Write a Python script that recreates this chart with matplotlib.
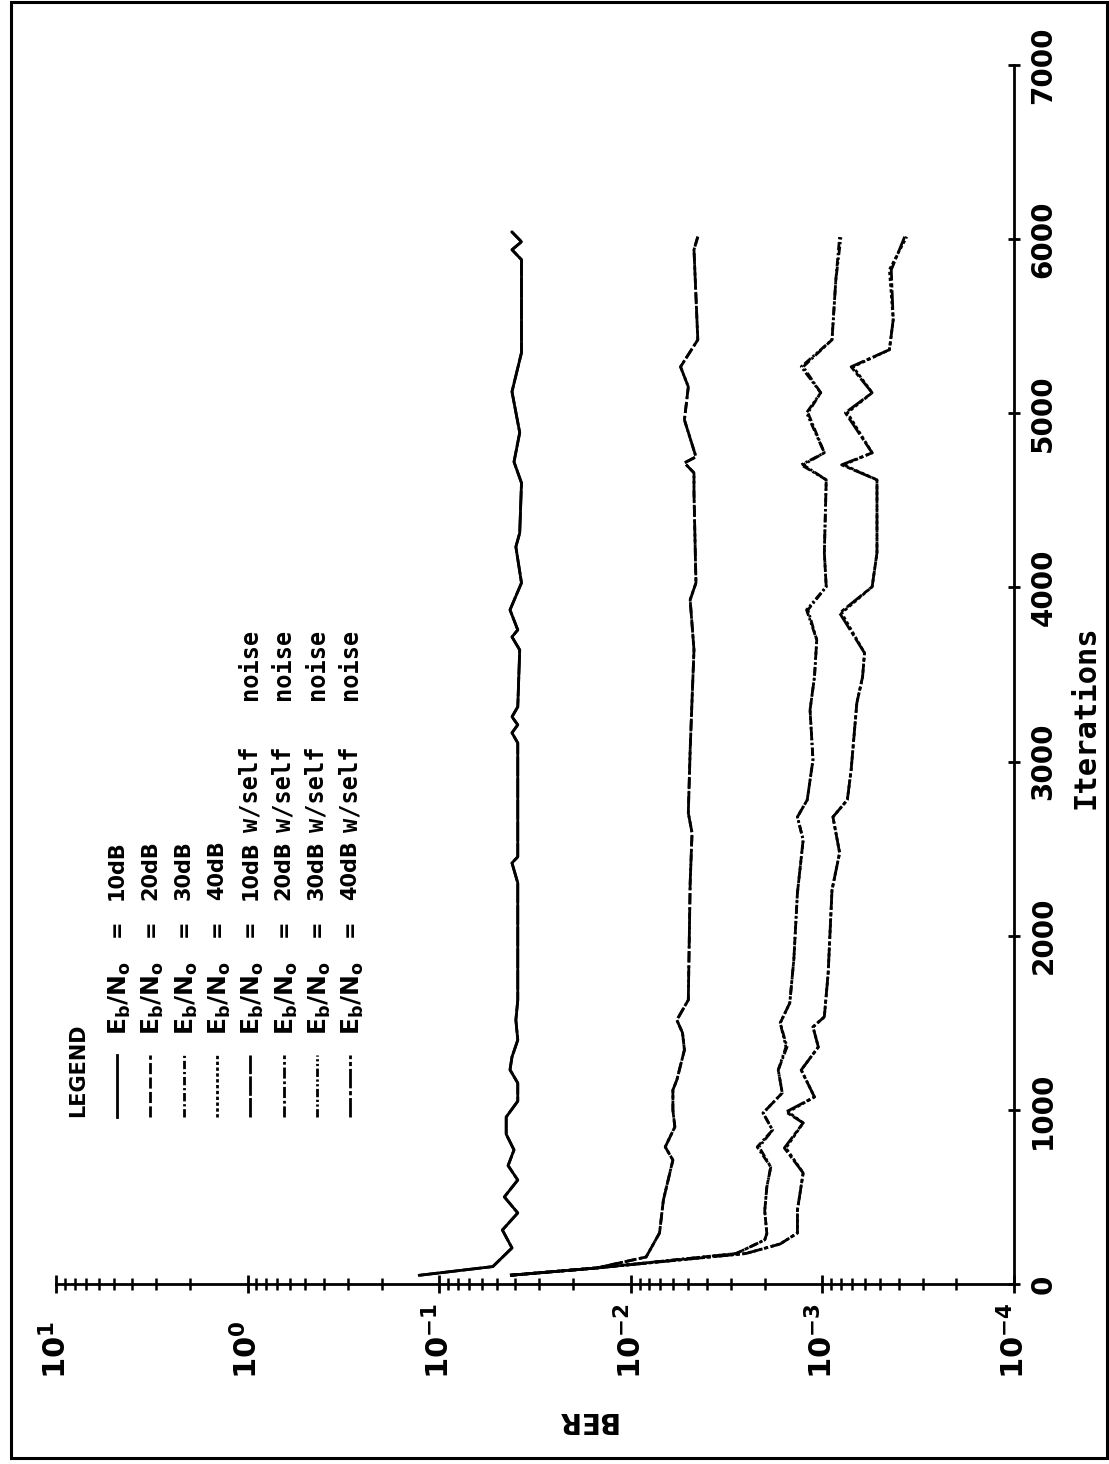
import matplotlib
matplotlib.use("Agg")
import matplotlib.pyplot as plt
from matplotlib.lines import Line2D
from matplotlib.patches import Rectangle
from matplotlib.ticker import LogLocator, NullFormatter

plt.rcParams['font.family'] = ['DejaVu Sans']
plt.rcParams['mathtext.default'] = 'bf'

# Eb/No = 10dB
it_10 = [50, 100, 207, 310, 408, 500, 597, 680, 770, 860, 959, 1050, 1154, 1230, 1304,
         1401, 1516, 1630, 1729, 2000, 2303, 2418, 2453, 2780, 3107, 3165, 3211, 3257,
         3314, 3641, 3716, 3756, 3871, 4026, 4233, 4313, 4600, 4721, 4889, 5124, 5348,
         5882, 5939, 5985, 6041]
ber_10 = [0.127, 0.0525, 0.0417, 0.0468, 0.0389, 0.0457, 0.0389, 0.0437, 0.0407, 0.0447,
          0.0447, 0.0389, 0.0389, 0.0427, 0.0417, 0.0389, 0.0398, 0.0389, 0.0389, 0.0389,
          0.0389, 0.0417, 0.0389, 0.0389, 0.0389, 0.0417, 0.0389, 0.0417, 0.0389, 0.0380,
          0.0417, 0.0389, 0.0427, 0.0372, 0.0398, 0.0380, 0.0372, 0.0407, 0.0380, 0.0417,
          0.0372, 0.0372, 0.0417, 0.0372, 0.0417]
ber_10_self = [0.127, 0.0525, 0.0417, 0.0468, 0.0389, 0.0457, 0.0389, 0.0437, 0.0407, 0.0447,
               0.0447, 0.0389, 0.0389, 0.0427, 0.0417, 0.0389, 0.0398, 0.0389, 0.0389, 0.0389,
               0.0389, 0.0417, 0.0389, 0.0389, 0.0389, 0.0417, 0.0389, 0.0417, 0.0389, 0.0380,
               0.0417, 0.0389, 0.0427, 0.0372, 0.0398, 0.0380, 0.0372, 0.0407, 0.0380, 0.0417,
               0.0372, 0.0372, 0.0417, 0.0372, 0.0417]

# Eb/No = 20dB
it_20 = [50, 92, 155, 293, 482, 712, 787, 902, 999, 1114, 1172, 1344, 1442, 1516, 1631,
         2303, 2590, 2705, 3067, 3354, 3641, 3929, 4026, 4543, 4658, 4715, 4750, 4962,
         5152, 5267, 5422, 5939, 6014]
ber_20 = [0.0427, 0.0151, 0.00832, 0.00708, 0.00676, 0.00603, 0.00661, 0.00589, 0.00603,
          0.00603, 0.00575, 0.00525, 0.00537, 0.00575, 0.00501, 0.00490, 0.00479, 0.00501,
          0.00490, 0.00479, 0.00468, 0.00490, 0.00457, 0.00468, 0.00468, 0.00525, 0.00457,
          0.00525, 0.00501, 0.00550, 0.00447, 0.00468, 0.00447]
ber_20_self = [0.0427, 0.0151, 0.00832, 0.00708, 0.00676, 0.00603, 0.00661, 0.00589, 0.00603,
               0.00603, 0.00575, 0.00525, 0.00537, 0.00575, 0.00501, 0.00490, 0.00479, 0.00501,
               0.00490, 0.00479, 0.00468, 0.00490, 0.00457, 0.00468, 0.00468, 0.00525, 0.00457,
               0.00525, 0.00501, 0.00550, 0.00447, 0.00468, 0.00447]

# Eb/No = 30dB
it_30 = [50, 92, 175, 253, 290, 420, 557, 672, 787, 884, 982, 1097, 1229, 1361, 1499, 1614,
         1861, 2246, 2550, 2682, 2780, 3010, 3297, 3486, 3699, 3871, 4004, 4199, 4618, 4704,
         4773, 5003, 5118, 5267, 5422, 5766, 6014]
ber_30 = [0.0427, 0.0151, 0.00282, 0.00200, 0.00195, 0.00200, 0.00195, 0.00186, 0.00219,
          0.00182, 0.00204, 0.00162, 0.00170, 0.00153, 0.00166, 0.00148, 0.00141, 0.00135,
          0.00126, 0.00135, 0.00120, 0.00112, 0.00116, 0.00110, 0.00107, 0.00119, 0.000955,
          0.000977, 0.000955, 0.00126, 0.000977, 0.00119, 0.00102, 0.00126, 0.000891,
          0.000851, 0.000813]
ber_30_self = [0.0427, 0.0151, 0.00282, 0.00200, 0.00195, 0.00200, 0.00195, 0.00186, 0.00214,
               0.00182, 0.00204, 0.00162, 0.00170, 0.00155, 0.00166, 0.00148, 0.00141, 0.00135,
               0.00126, 0.00135, 0.00120, 0.00112, 0.00116, 0.00110, 0.00107, 0.00121, 0.000955,
               0.000977, 0.000955, 0.00129, 0.000977, 0.00121, 0.00102, 0.00129, 0.000891,
               0.000851, 0.000800]

# Eb/No = 40dB
it_40 = [50, 92, 175, 230, 293, 425, 638, 781, 925, 988, 1074, 1229, 1361, 1476, 1534, 1786,
         2263, 2476, 2682, 2780, 2952, 3337, 3486, 3624, 3853, 4004, 4199, 4618, 4704, 4773,
         5003, 5118, 5267, 5365, 5537, 5824, 6014]
ber_40 = [0.0427, 0.0151, 0.00251, 0.00166, 0.00135, 0.00135, 0.00126, 0.00155, 0.00126,
          0.00151, 0.00110, 0.00129, 0.00105, 0.00112, 0.000977, 0.000933, 0.000891, 0.000813,
          0.000881, 0.000741, 0.000708, 0.000661, 0.000617, 0.000603, 0.000794, 0.000550,
          0.000519, 0.000519, 0.000776, 0.000550, 0.000741, 0.000550, 0.000692, 0.000447,
          0.000427, 0.000447, 0.000363]
ber_40_self = [0.0427, 0.0151, 0.00251, 0.00166, 0.00135, 0.00135, 0.00126, 0.00158, 0.00126,
               0.00155, 0.00110, 0.00129, 0.00105, 0.00112, 0.000977, 0.000933, 0.000891, 0.000813,
               0.000881, 0.000741, 0.000708, 0.000661, 0.000617, 0.000603, 0.000813, 0.000550,
               0.000519, 0.000519, 0.000794, 0.000550, 0.000759, 0.000550, 0.000708, 0.000447,
               0.000427, 0.000437, 0.000372]

ber_ticks = [10, 1, 0.1, 0.01, 0.001, 0.0001]
ber_ticklabels = [r'$10^{1}$', r'$10^{0}$', r'$10^{-1}$', r'$10^{-2}$', r'$10^{-3}$', r'$10^{-4}$']
iter_ticks = [0, 1000, 2000, 3000, 4000, 5000, 6000, 7000]

legend_snr = ['10dB', '20dB', '30dB', '40dB', '10dB', '20dB', '30dB', '40dB']
legend_self = [False, False, False, False, True, True, True, True]

styles = ['-', (0, (4, 1.2)), (0, (3, 1.0, 0.8, 1.0)), (0, (1.2, 0.9)),
          (0, (7, 0.8)), (0, (4, 1.0, 1, 1.0)), (0, (3, 0.9, 0.8, 0.9, 0.8, 0.9)),
          (0, (7, 1.0, 1.5, 1.0))]

series = [(it_10, ber_10), (it_20, ber_20), (it_30, ber_30), (it_40, ber_40),
          (it_10, ber_10_self), (it_20, ber_20_self), (it_30, ber_30_self), (it_40, ber_40_self)]

W, H = 1109, 1464
fig = plt.figure(figsize=(W / 100, H / 100), dpi=100)


def fx(px):
    return px / W


def fy(py):
    return 1 - py / H


mono = 'DejaVu Sans Mono'

# plot is drawn turned by 90 degrees: BER runs along the bottom, iterations up the right side
ax = fig.add_axes([fx(56), fy(1284), (1014 - 56) / W, (1284 - 65) / H])
ax.patch.set_alpha(0)

for (its, ber), ls in zip(series, styles):
    ax.plot(ber, its, color='black', lw=2.0, ls=ls)

ax.set_xscale('log')
ax.set_xlim(10, 1e-4)
ax.set_ylim(0, 7000)

ax.spines['top'].set_visible(False)
ax.spines['left'].set_visible(False)
ax.spines['bottom'].set_linewidth(2)
ax.spines['right'].set_linewidth(2)

ax.set_xticks(ber_ticks)
ax.set_xticklabels(ber_ticklabels)
ax.xaxis.set_minor_locator(LogLocator(base=10, subs=range(2, 10)))
ax.xaxis.set_minor_formatter(NullFormatter())
ax.tick_params(axis='x', which='major', direction='inout', length=13, width=2,
               pad=62, labelsize=22, labelrotation=90)
ax.tick_params(axis='x', which='minor', direction='inout', length=9, width=1.8)
for lbl in ax.get_xticklabels():
    lbl.set_va('bottom')

ax.yaxis.tick_right()
ax.yaxis.set_label_position('right')
ax.set_yticks(iter_ticks)
ax.tick_params(axis='y', which='major', direction='inout', length=8, width=2,
               pad=7, labelsize=20, labelrotation=90)
for lbl in ax.get_yticklabels():
    lbl.set_va('center')
    lbl.set_fontweight('bold')

ax.set_xlabel('BER', rotation=180, fontsize=20, fontweight='bold', va='center', ha='center')
ax.xaxis.set_label_coords((586 - 56) / 958, (1284 - 1420) / 1219)
ax.set_ylabel('Iterations', rotation=90, fontsize=22, fontweight='bold', family=mono,
              va='center', ha='center')
ax.yaxis.set_label_coords((1086 - 56) / 958, (1284 - 717) / 1219)

# legend (drawn by hand, rotated like the rest of the page)
fig.text(fx(78), fy(1117), 'LEGEND', rotation=90, ha='center', va='bottom',
         fontsize=15, fontweight='bold')
for i, (snr, self_noise) in enumerate(zip(legend_snr, legend_self)):
    x = 117 + 33.3 * i
    fig.add_artist(Line2D([fx(x), fx(x)], [fy(1117), fy(1055)], transform=fig.transFigure,
                          color='black', lw=2.0, ls=styles[i]))
    fig.text(fx(x + 3), fy(1035), r'E$_b$/N$_o$', rotation=90, ha='center', va='bottom',
             fontsize=18, fontweight='bold')
    fig.text(fx(x), fy(928), '=', rotation=90, ha='center', va='center',
             fontsize=15, fontweight='bold')
    fig.text(fx(x), fy(900), snr, rotation=90, ha='center', va='bottom',
             fontsize=15, fontweight='bold')
    if self_noise:
        fig.text(fx(x), fy(832), 'w/self', rotation=90, ha='center', va='bottom',
                 fontsize=17, fontweight='bold', family=mono)
        fig.text(fx(x), fy(700), 'noise', rotation=90, ha='center', va='bottom',
                 fontsize=17, fontweight='bold', family=mono)

# page frame
fig.add_artist(Rectangle((fx(11), fy(1458)), fx(1107) - fx(11), fy(2) - fy(1458),
                         transform=fig.transFigure, fill=False, lw=2.2, color='black'))

fig.savefig('out.png', dpi=100, facecolor='white')
